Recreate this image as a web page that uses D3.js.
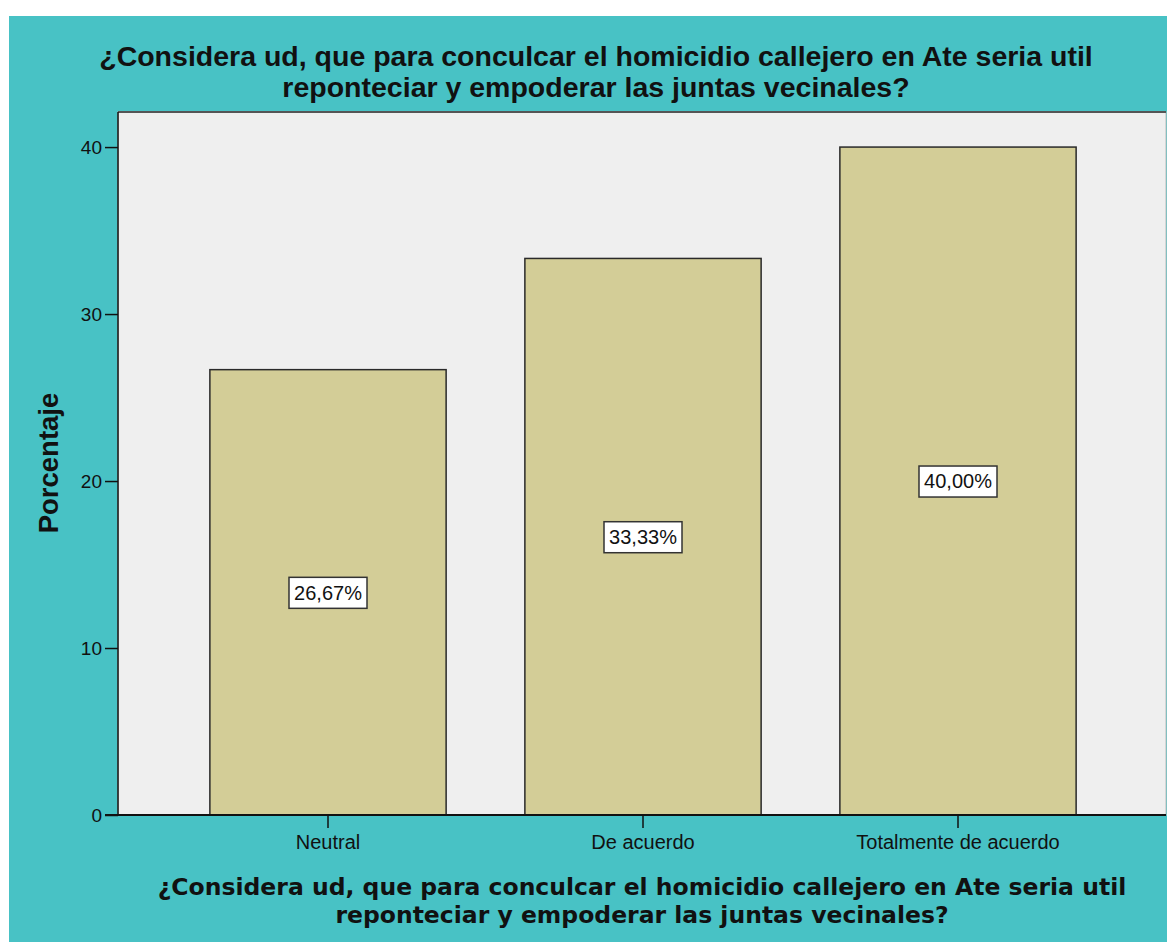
<!DOCTYPE html>
<html lang="es">
<head>
<meta charset="UTF-8">
<title>Porcentaje</title>
<style>
    body { margin: 0; background: #fff; }
    svg { display: block; }
    text { font-family: "Liberation Sans", Arial, sans-serif; fill: #111; }
</style>
</head>
<body>
<svg width="1167" height="942"></svg>
<script src="https://d3js.org/d3.v7.min.js"></script>
<script>
    // datos
    const categories = ["Neutral", "De acuerdo", "Totalmente de acuerdo"];
    const values = [26.67, 33.33, 40.00];
    const yTicks = [0, 10, 20, 30, 40];
    const titleLines = [
        "¿Considera ud, que para conculcar el homicidio callejero en Ate seria util",
        "reponteciar y empoderar las juntas vecinales?"
    ];

    const svg = d3.select("svg");

    // fondo turquesa
    svg.append("rect")
        .attr("x", 9).attr("y", 16)
        .attr("width", 1158).attr("height", 926)
        .attr("fill", "#48c2c5");

    const plot = { left: 118, top: 112, right: 1166, bottom: 815 };

    svg.append("rect")
        .attr("x", plot.left).attr("y", plot.top)
        .attr("width", plot.right - plot.left).attr("height", plot.bottom - plot.top)
        .attr("fill", "#efefef")
        .attr("stroke", "#bbb").attr("stroke-width", 1);
    svg.append("line")
        .attr("x1", plot.left).attr("x2", plot.right)
        .attr("y1", plot.top).attr("y2", plot.top)
        .attr("stroke", "#555").attr("stroke-width", 2);

    const y = d3.scaleLinear().domain([0, 42.1]).range([plot.bottom, plot.top]);
    const x = d3.scaleBand().domain(categories).range([170.5, 1115.5]).paddingInner(0.25).paddingOuter(0.125);

    // barras
    svg.append("g")
        .selectAll("rect")
        .data(values)
        .join("rect")
        .attr("x", (d, i) => x(categories[i]))
        .attr("y", d => y(d))
        .attr("width", x.bandwidth())
        .attr("height", d => y(0) - y(d))
        .attr("fill", "#d3cd97")
        .attr("stroke", "#2a2a2a")
        .attr("stroke-width", 1.5);

    // etiquetas
    const labels = svg.append("g")
        .selectAll("g")
        .data(values)
        .join("g")
        .attr("transform", (d, i) => `translate(${x(categories[i]) + x.bandwidth() / 2},${y(d / 2)})`);

    labels.append("rect")
        .attr("x", -39).attr("y", -15)
        .attr("width", 78).attr("height", 31)
        .attr("fill", "#fff")
        .attr("stroke", "#333").attr("stroke-width", 1.5);

    labels.append("text")
        .attr("text-anchor", "middle")
        .attr("dy", "0.36em")
        .attr("font-size", 20)
        .text(d => d.toFixed(2).replace(".", ",") + "%");

    // eje y
    const yAxis = svg.append("g")
        .attr("transform", `translate(${plot.left},0)`)
        .call(d3.axisLeft(y).tickValues(yTicks).tickSize(13).tickPadding(3));
    yAxis.select(".domain").attr("stroke", "#111").attr("stroke-width", 1.5).attr("d", `M0,${plot.top}V${plot.bottom}`);
    yAxis.selectAll(".tick line").attr("stroke", "#111").attr("stroke-width", 1.5);
    yAxis.selectAll(".tick text").attr("font-size", 19).attr("font-family", "Liberation Sans, Arial, sans-serif").attr("fill", "#111");

    // eje x
    const xAxis = svg.append("g")
        .attr("transform", `translate(0,${plot.bottom})`)
        .call(d3.axisBottom(x).tickSize(13).tickPadding(7));
    xAxis.select(".domain").attr("stroke", "#111").attr("stroke-width", 2).attr("d", `M${plot.left - 13},0H${plot.right}`);
    xAxis.selectAll(".tick line").attr("stroke", "#111").attr("stroke-width", 1.5);
    xAxis.selectAll(".tick text").attr("font-size", 20).attr("font-family", "Liberation Sans, Arial, sans-serif").attr("fill", "#111");

    // titulo
    svg.append("text")
        .attr("x", 596).attr("y", 66)
        .attr("text-anchor", "middle")
        .attr("font-size", 28.5).attr("font-weight", "bold")
        .selectAll("tspan")
        .data(titleLines)
        .join("tspan")
        .attr("x", 596)
        .attr("dy", (d, i) => i ? 31 : 0)
        .text(d => d);

    // titulo eje x
    svg.append("text")
        .attr("x", 642).attr("y", 895)
        .attr("text-anchor", "middle")
        .attr("font-size", 23.5).attr("font-weight", "bold")
        .style("font-family", "DejaVu Sans, sans-serif")
        .selectAll("tspan")
        .data(titleLines)
        .join("tspan")
        .attr("x", 642)
        .attr("dy", (d, i) => i ? 28 : 0)
        .text(d => d);

    // titulo eje y
    svg.append("text")
        .attr("transform", `translate(58,463) rotate(-90)`)
        .attr("text-anchor", "middle")
        .attr("font-size", 27.5).attr("font-weight", "bold")
        .text("Porcentaje");
</script>
</body>
</html>
